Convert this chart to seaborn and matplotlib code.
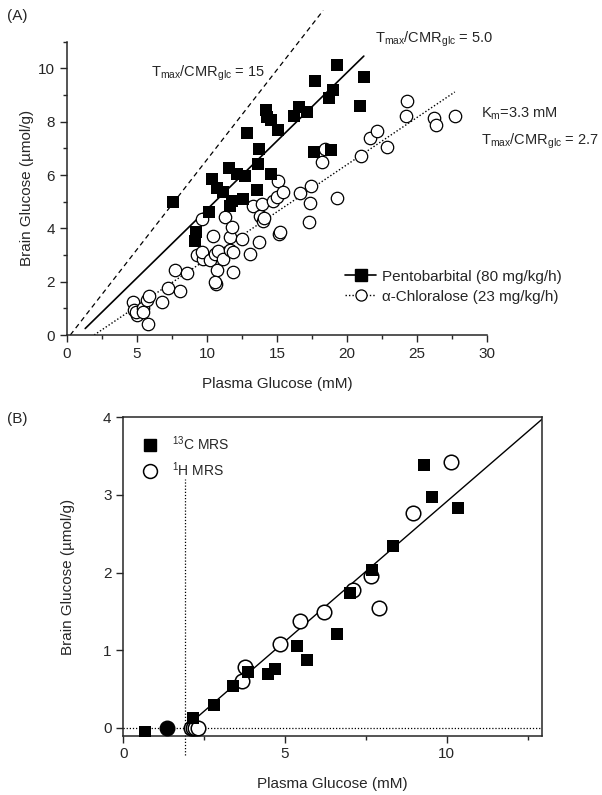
import numpy as np
import pandas as pd
import matplotlib
matplotlib.use("Agg")
import matplotlib.pyplot as plt
from matplotlib.lines import Line2D
import seaborn as sns

# ---------------- Panel A data ----------------
pento_x = [7.6, 9.21, 9.14, 10.17, 10.33, 10.74, 11.17, 11.6, 11.76, 11.64, 12.12, 12.71,
           12.6, 12.84, 13.55, 13.62, 13.74, 14.21, 14.31, 14.55, 14.6, 15.1, 16.24, 16.6,
           17.16, 17.71, 17.67, 19.26, 19.02, 18.74, 21.24, 20.93, 18.83]
pento_y = [4.97, 3.86, 3.54, 4.6, 5.85, 5.53, 5.35, 6.28, 5.04, 4.85, 6.03, 5.97,
           5.1, 7.59, 5.43, 6.4, 6.97, 8.43, 8.17, 8.08, 6.03, 7.69, 8.21, 8.54,
           8.36, 9.51, 6.88, 10.14, 9.2, 8.87, 9.66, 8.58, 6.93]

chlor_x = [4.74, 4.79, 4.98, 4.9, 5.45, 5.4, 5.69, 5.88, 5.81, 6.8, 7.2, 8.1, 7.71, 8.55,
           9.26, 9.74, 9.62, 9.62, 10.21, 10.45, 10.57, 10.69, 10.64, 10.6, 10.8, 11.17,
           11.29, 11.64, 11.76, 11.64, 11.88, 11.88, 12.48, 13.07, 13.3, 13.71, 13.79, 13.9,
           14.02, 14.1, 14.74, 14.98, 15.1, 15.45, 15.12, 15.2, 16.64, 17.4, 17.35, 17.31,
           18.19, 18.43, 19.26, 21.0, 21.64, 22.12, 22.83, 24.21, 24.26, 26.24, 26.36, 27.71]
chlor_y = [1.24, 0.93, 0.75, 0.85, 1.0, 0.87, 1.31, 1.47, 0.4, 1.24, 1.78, 1.65, 2.45, 2.33,
           2.99, 2.86, 3.11, 4.35, 2.8, 3.73, 3.05, 2.43, 1.93, 2.0, 3.15, 2.86,
           4.41, 3.69, 4.04, 3.17, 3.11, 2.36, 3.6, 3.05, 4.85, 3.48, 4.48, 4.91,
           4.29, 4.4, 5.04, 5.16, 5.78, 5.35, 3.77, 3.85, 5.32, 5.6, 4.95, 4.23,
           6.47, 6.97, 5.13, 6.72, 7.4, 7.65, 7.05, 8.23, 8.77, 8.12, 7.87, 8.21]

# model lines (reversible Michaelis-Menten, linear form)
Vd = 0.77
Km = 3.3
ratio_15 = 15.0
ratio_pento = 5.0
ratio_chlor = 2.7

# ---------------- Panel B data ----------------
c13_x = [0.67, 2.16, 2.8, 3.38, 3.86, 4.48, 4.68, 5.37, 5.68, 6.59, 7.02, 7.7, 8.35, 9.28, 9.54, 10.33]
c13_y = [-0.05, 0.13, 0.29, 0.54, 0.72, 0.70, 0.76, 1.06, 0.88, 1.21, 1.74, 2.03, 2.34, 3.38, 2.97, 2.83]

h1_x = [2.08, 2.15, 2.22, 2.3, 3.68, 3.76, 4.84, 5.47, 6.2, 7.1, 7.67, 7.9, 8.95, 10.13]
h1_y = [0.0, 0.0, 0.0, 0.0, 0.6, 0.79, 1.08, 1.38, 1.49, 1.78, 1.96, 1.54, 2.77, 3.43]

h1_filled_x = [1.36]
h1_filled_y = [0.0]

b_slope = 0.36
b_xint = 1.9

sns.set_style("ticks")
plt.rcParams["font.family"] = ["Liberation Sans", "DejaVu Sans"]
plt.rcParams["mathtext.fontset"] = "custom"
plt.rcParams["mathtext.rm"] = "Liberation Sans"
plt.rcParams["mathtext.it"] = "Liberation Sans:italic"

fig = plt.figure(figsize=(6.02, 7.95), dpi=100)
axA = fig.add_axes([0.1113, 0.5786, 0.6977, 0.369])
axB = fig.add_axes([0.2048, 0.0746, 0.696, 0.4005])

# -------------------------------
# Panel A
# -------------------------------
dfp = pd.DataFrame({"x": pento_x, "y": pento_y})
dfc = pd.DataFrame({"x": chlor_x, "y": chlor_y})

sns.scatterplot(data=dfc, x="x", y="y", ax=axA, marker="o", s=80,
                facecolor="white", edgecolor="black", linewidth=0.9, zorder=3)
sns.scatterplot(data=dfp, x="x", y="y", ax=axA, marker="s", s=70,
                color="black", edgecolor="black", linewidth=0, zorder=4)


def mm_line(ratio, x):
    return Vd * ((ratio - 1) * x - Km) / (ratio + 1)


x15 = np.array([Km / (ratio_15 - 1), 18.3])
axA.plot(x15, mm_line(ratio_15, x15), color="black", lw=0.9, ls=(0, (4, 3)),
         clip_on=False, zorder=2)
xp = np.array([1.3, 21.2])
axA.plot(xp, mm_line(ratio_pento, xp), color="black", lw=1.2, zorder=2)
xc = np.array([Km / (ratio_chlor - 1), 27.7])
axA.plot(xc, mm_line(ratio_chlor, xc), color="black", lw=1.0, ls=(0, (1, 1.5)), zorder=2)

axA.set_xlim(0, 30)
axA.set_ylim(0, 11)
axA.set_xticks([0, 5, 10, 15, 20, 25, 30])
axA.set_xticks(np.arange(2.5, 30, 5), minor=True)
axA.set_yticks([0, 2, 4, 6, 8, 10])
axA.set_yticks([1, 3, 5, 7, 9, 11], minor=True)
axA.tick_params(axis="both", which="major", direction="out", length=5, width=1, labelsize=11)
axA.tick_params(axis="both", which="minor", direction="out", length=3, width=1)
sns.despine(ax=axA)
for s in ["left", "bottom"]:
    axA.spines[s].set_linewidth(1.1)
axA.set_xlabel("Plasma Glucose (mM)", fontsize=11, labelpad=12)
axA.set_ylabel("Brain Glucose (\u00b5mol/g)", fontsize=11, labelpad=3)

ann = 10.5
axA.text(6.0, 9.8, r"T$_{\rm max}$/CMR$_{\rm glc}$ = 15", fontsize=ann, va="center")
axA.text(22.0, 11.1, r"T$_{\rm max}$/CMR$_{\rm glc}$ = 5.0", fontsize=ann, va="center",
         clip_on=False)
axA.text(29.6, 8.28, r"K$_{\rm m}$=3.3 mM", fontsize=ann, va="center", clip_on=False)
axA.text(29.6, 7.28, r"T$_{\rm max}$/CMR$_{\rm glc}$ = 2.7", fontsize=ann, va="center",
         clip_on=False)

handles = [
    Line2D([], [], color="black", lw=1.2, marker="s", markersize=8),
    Line2D([], [], color="black", lw=1.0, ls=(0, (1, 1.5)), marker="o", markersize=8,
           markerfacecolor="white", markeredgewidth=0.9),
]
axA.legend(handles, ["Pentobarbital (80 mg/kg/h)", "\u03b1-Chloralose (23 mg/kg/h)"],
           loc="center left", bbox_to_anchor=(0.63, 0.165), frameon=False, fontsize=11,
           handlelength=2.0, handletextpad=0.4, labelspacing=0.4)

fig.text(0.012, 0.975, "(A)", fontsize=11)

# -------------------------------
# Panel B
# -------------------------------
axB.axhline(0, color="black", lw=0.9, ls=(0, (1, 1.5)), zorder=1)
axB.plot([b_xint, b_xint], [-0.35, 3.2], color="black", lw=0.9, ls=(0, (1, 1.5)),
         clip_on=False, zorder=1)
xb = np.array([2.15, 13.0])
axB.plot(xb, b_slope * (xb - b_xint), color="black", lw=1.0, zorder=2)

dfh = pd.DataFrame({"x": h1_x, "y": h1_y})
dfc13 = pd.DataFrame({"x": c13_x, "y": c13_y})
dfhf = pd.DataFrame({"x": h1_filled_x, "y": h1_filled_y})

sns.scatterplot(data=dfh, x="x", y="y", ax=axB, marker="o", s=110,
                facecolor="white", edgecolor="black", linewidth=1.1, zorder=3)
sns.scatterplot(data=dfc13, x="x", y="y", ax=axB, marker="s", s=75,
                color="black", edgecolor="black", linewidth=0, zorder=4)
sns.scatterplot(data=dfhf, x="x", y="y", ax=axB, marker="o", s=110,
                color="black", edgecolor="black", linewidth=1.0, zorder=4, clip_on=False)

axB.set_xlim(0, 12.95)
axB.set_ylim(-0.1, 4)
axB.set_xticks([0, 5, 10])
axB.set_xticks([2.5, 7.5, 12.5], minor=True)
axB.set_yticks([0, 1, 2, 3, 4])
axB.tick_params(axis="both", which="major", direction="out", length=5, width=1, labelsize=11)
axB.tick_params(axis="both", which="minor", direction="out", length=3, width=1)
for s in axB.spines.values():
    s.set_linewidth(1.1)
axB.set_xlabel("Plasma Glucose (mM)", fontsize=11, labelpad=11)
axB.set_ylabel("Brain Glucose (\u00b5mol/g)", fontsize=11, labelpad=20)

handlesB = [
    Line2D([], [], color="black", lw=0, marker="s", markersize=8),
    Line2D([], [], color="black", lw=0, marker="o", markersize=10,
           markerfacecolor="white", markeredgewidth=1.1),
]
axB.legend(handlesB, [r"$^{13}$C MRS", r"$^{1}$H MRS"], loc="upper left",
           bbox_to_anchor=(0.0, 0.985), frameon=False, fontsize=10,
           handletextpad=0.6, labelspacing=0.5)

fig.text(0.012, 0.468, "(B)", fontsize=11)

plt.savefig("out.png", dpi=100)
